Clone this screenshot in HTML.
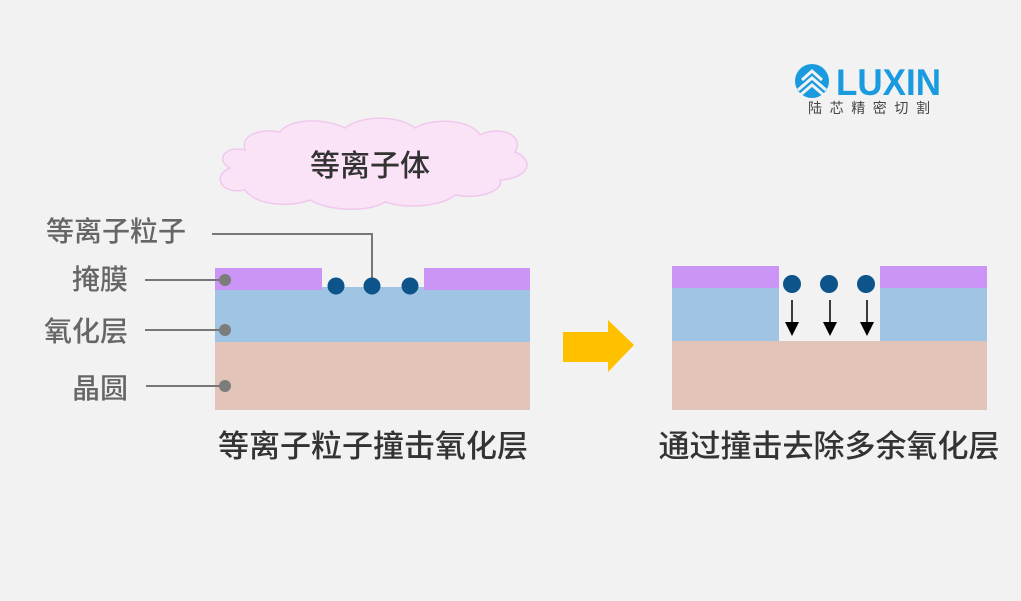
<!DOCTYPE html>
<html><head><meta charset="utf-8"><style>
body{margin:0;width:1021px;height:601px;background:#f2f2f2;overflow:hidden;font-family:"Liberation Sans","Noto Sans CJK SC",sans-serif}
</style></head><body>
<svg width="1021" height="601" xmlns="http://www.w3.org/2000/svg" style="position:absolute;left:0;top:0">
<g fill="#fbe3f7" stroke="#f0c8ec" stroke-width="1.5">
<path d="M245,150 C225,145 215,160 230,168 C212,175 220,195 245,190 C255,205 290,208 310,200 C330,212 370,212 385,202 C410,210 445,205 455,195 C480,200 505,190 500,180 C530,178 535,160 515,152 C525,135 500,125 480,135 C470,118 430,118 415,128 C400,115 360,115 345,128 C325,118 290,118 280,132 C260,128 240,135 245,150 Z"/>
</g>
<text x="370" y="176" font-size="30" fill="#333" text-anchor="middle" font-weight="500" font-family="Liberation Sans,Noto Sans CJK SC,sans-serif">等离子体</text>
<rect x="215" y="342" width="315" height="68" fill="#e2c4b8"/>
<rect x="215" y="290" width="315" height="52" fill="#a0c4e4"/>
<rect x="322" y="287" width="102" height="4" fill="#a0c4e4"/>
<rect x="215" y="268" width="107" height="22" fill="#ca95f5"/>
<rect x="424" y="268" width="106" height="22" fill="#ca95f5"/>
<polyline points="212,234 372,234 372,284" fill="none" stroke="#777" stroke-width="2"/>
<g fill="#0d548a"><circle cx="336" cy="286" r="8.5"/><circle cx="372" cy="286" r="8.5"/><circle cx="410" cy="286" r="8.5"/></g>
<g stroke="#777" stroke-width="2"><line x1="145" y1="280" x2="225" y2="280"/><line x1="145" y1="330" x2="225" y2="330"/><line x1="146" y1="386" x2="225" y2="386"/></g>
<g fill="#7c7c7c"><circle cx="225" cy="280" r="6"/><circle cx="225" cy="330" r="6"/><circle cx="225" cy="386" r="6"/></g>
<g font-size="28" fill="#666" font-weight="500" font-family="Liberation Sans,Noto Sans CJK SC,sans-serif">
<text x="46" y="241">等离子粒子</text>
<text x="128" y="289" text-anchor="end">掩膜</text>
<text x="128" y="341" text-anchor="end">氧化层</text>
<text x="128" y="398" text-anchor="end">晶圆</text>
</g>
<text x="373" y="457" font-size="31" fill="#333" text-anchor="middle" font-weight="500" font-family="Liberation Sans,Noto Sans CJK SC,sans-serif">等离子粒子撞击氧化层</text>
<polygon points="563,332 608,332 608,320 634,345 608,372 608,362 563,362" fill="#ffc000"/>
<rect x="672" y="341" width="315" height="69" fill="#e2c4b8"/>
<rect x="672" y="288" width="107" height="53" fill="#a0c4e4"/>
<rect x="880" y="288" width="107" height="53" fill="#a0c4e4"/>
<rect x="672" y="266" width="107" height="22" fill="#ca95f5"/>
<rect x="880" y="266" width="107" height="22" fill="#ca95f5"/>
<g fill="#0d548a"><circle cx="792" cy="284" r="9"/><circle cx="829" cy="284" r="9"/><circle cx="866" cy="284" r="9"/></g>
<g stroke="#000" stroke-width="1.5"><line x1="792" y1="300" x2="792" y2="325"/><line x1="830" y1="300" x2="830" y2="325"/><line x1="867" y1="300" x2="867" y2="325"/></g>
<g fill="#000"><polygon points="785,322 799,322 792,336"/><polygon points="823,322 837,322 830,336"/><polygon points="860,322 874,322 867,336"/></g>
<text x="829" y="457" font-size="31" fill="#333" text-anchor="middle" font-weight="500" font-family="Liberation Sans,Noto Sans CJK SC,sans-serif">通过撞击去除多余氧化层</text>
<circle cx="812" cy="81" r="17" fill="#1a9be0"/>
<g fill="none" stroke="#f2f2f2" stroke-width="3">
<polyline points="798,90 812,78 826,90"/><polyline points="798,97 812,85 826,97"/><polyline points="802,80 812,71 822,80"/>
</g>
<text x="836" y="95" font-size="37" fill="#1a9be0" font-weight="bold" font-family="Liberation Sans,sans-serif" textLength="105" lengthAdjust="spacingAndGlyphs">LUXIN</text>
<text x="808" y="113" font-size="14" fill="#444" textLength="122" font-family="Liberation Sans,Noto Sans CJK SC,sans-serif">陆芯精密切割</text>
</svg>
</body></html>
